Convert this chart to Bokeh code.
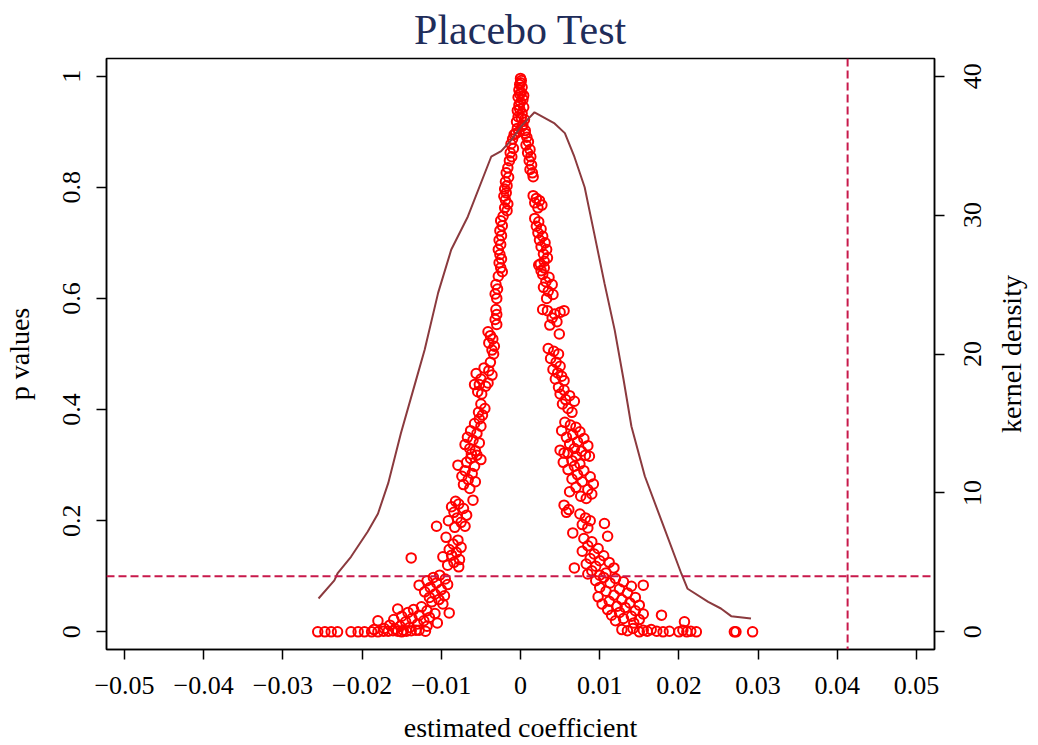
import math
from bokeh.plotting import figure
from bokeh.layouts import row
from bokeh.models import Range1d, LinearAxis, FixedTicker, Span, Title
from bokeh.core.properties import value
from bokeh.embed import file_html
from bokeh.resources import INLINE

# ---------------- data ----------------
# kernel density of placebo coefficients (right axis)
dens_x = [-0.0255, -0.0235, -0.0231, -0.0214, -0.0193, -0.0180, -0.0167, -0.0151,
          -0.0132, -0.0121, -0.0104, -0.00875, -0.00664, -0.0037, -0.00244, -0.00117,
          0.0001, 0.00177, 0.0043, 0.0056, 0.0068, 0.0081, 0.0093, 0.0106, 0.0119,
          0.0130, 0.0140, 0.0157, 0.0178, 0.0203, 0.0211, 0.0237, 0.0253, 0.0266, 0.0291]
dens_y = [2.4, 3.7, 4.2, 5.4, 7.2, 8.5, 10.7, 14.3,
          18.1, 20.3, 24.4, 27.5, 29.9, 34.2, 34.6, 35.4,
          36.4, 37.4, 36.6, 35.9, 34.2, 32.0, 28.7, 25.1, 21.7,
          18.2, 14.8, 11.2, 8.0, 4.2, 3.1, 2.16, 1.68, 1.13, 0.96]

# placebo estimates near zero (top of the funnel)
top_coef = [0.0000, 0.0001, -0.0001, 0.0002, -0.0002, 0.0001, -0.0003, 0.0003, 0.0000,
            -0.0002, 0.0004, -0.0004, 0.0002, -0.0003, 0.0005, -0.0005, 0.0003, -0.0004,
            0.0006, -0.0006, 0.0004, -0.0001, 0.0001, 0.0002, -0.0002, 0.0000, -0.0001]
top_p = [0.996, 0.992, 0.985, 0.980, 0.975, 0.970, 0.962, 0.958, 0.953,
         0.948, 0.944, 0.938, 0.933, 0.927, 0.922, 0.918, 0.912, 0.906,
         0.902, 0.897, 0.965, 0.941, 0.925, 0.910, 0.900, 0.988, 0.968]

# negative placebo estimates
left_coef = [-0.0008, -0.0010, -0.0012, -0.0009, -0.0013, -0.0011, -0.0014,
             -0.0016, -0.0018, -0.0015, -0.0019, -0.0017, -0.0020, -0.0018, -0.0021, -0.0019,
             -0.0016, -0.0020, -0.0017,
             -0.0022, -0.0025, -0.0023, -0.0026, -0.0024, -0.0027, -0.0025, -0.0028, -0.0026,
             -0.0024, -0.0027,
             -0.0025, -0.0023, -0.0028, -0.0031, -0.0029, -0.0032, -0.0030,
             -0.0031, -0.0030, -0.0032, -0.0030,
             -0.0041, -0.0038, -0.0035, -0.0040, -0.0033, -0.0036, -0.0034,
             -0.0038, -0.0046, -0.0040, -0.0036, -0.0056, -0.0050, -0.0052, -0.0044, -0.0041,
             -0.0058, -0.0054, -0.0049,
             -0.0050, -0.0045, -0.0053, -0.0048,
             -0.0052, -0.0058, -0.0050, -0.0063, -0.0055, -0.0067, -0.0060, -0.0052, -0.0070,
             -0.0064, -0.0057, -0.0062,
             -0.0055, -0.0063, -0.0050, -0.0068, -0.0079, -0.0058, -0.0070, -0.0061, -0.0074,
             -0.0066, -0.0057, -0.0072, -0.0064, -0.0060,
             -0.0082, -0.0078, -0.0087, -0.0072, -0.0084, -0.0068, -0.0080, -0.0091, -0.0075,
             -0.0070, -0.0083, -0.0106, -0.0094, -0.0138,
             -0.0079, -0.0085, -0.0075, -0.0090, -0.0081, -0.0087, -0.0098, -0.0077, -0.0084,
             -0.0092, -0.0078,
             -0.0128, -0.0102, -0.0110, -0.0095, -0.0118, -0.0106, -0.0092, -0.0114, -0.0100,
             -0.0121, -0.0108, -0.0096, -0.0115, -0.0103, -0.0112, -0.0098, -0.0090,
             -0.0155, -0.0125, -0.0135, -0.0118, -0.0142, -0.0108, -0.0128, -0.0150, -0.0115,
             -0.0137, -0.0160, -0.0122, -0.0180, -0.0145, -0.0105, -0.0130, -0.0165, -0.0152,
             -0.0118, -0.0140, -0.0172, -0.0158, -0.0132, -0.0148, -0.0185,
             -0.0256, -0.0247, -0.0239, -0.0231, -0.0214, -0.0205, -0.0197, -0.0188, -0.0180,
             -0.0173, -0.0167, -0.0161, -0.0155, -0.0150, -0.0144, -0.0138, -0.0128, -0.0120]
left_p = [0.895, 0.887, 0.878, 0.870, 0.862, 0.855, 0.848,
          0.835, 0.826, 0.818, 0.810, 0.803, 0.797, 0.790, 0.784, 0.777,
          0.770, 0.763, 0.758,
          0.748, 0.740, 0.731, 0.722, 0.713, 0.705, 0.697, 0.688, 0.679,
          0.671, 0.664,
          0.655, 0.648, 0.640, 0.625, 0.617, 0.608, 0.600,
          0.580, 0.571, 0.562, 0.553,
          0.540, 0.533, 0.527, 0.520, 0.514, 0.507, 0.500,
          0.485, 0.475, 0.470, 0.462, 0.465, 0.455, 0.445, 0.442, 0.448,
          0.445, 0.432, 0.428,
          0.410, 0.402, 0.395, 0.390,
          0.383, 0.375, 0.370, 0.362, 0.357, 0.350, 0.345, 0.340, 0.337,
          0.330, 0.326, 0.320,
          0.318, 0.312, 0.310, 0.305, 0.300, 0.298, 0.290, 0.285, 0.280,
          0.274, 0.270, 0.265, 0.258, 0.237,
          0.235, 0.230, 0.225, 0.222, 0.215, 0.210, 0.205, 0.200, 0.197,
          0.190, 0.188, 0.190, 0.170, 0.133,
          0.165, 0.158, 0.152, 0.148, 0.143, 0.138, 0.135, 0.130, 0.125,
          0.120, 0.117,
          0.084, 0.102, 0.098, 0.095, 0.092, 0.088, 0.085, 0.080, 0.076,
          0.072, 0.068, 0.065, 0.062, 0.058, 0.054, 0.050, 0.034,
          0.041, 0.045, 0.040, 0.038, 0.035, 0.033, 0.030, 0.028, 0.026,
          0.024, 0.022, 0.020, 0.020, 0.018, 0.016, 0.014, 0.012, 0.010,
          0.010, 0.008, 0.006, 0.005, 0.003, 0.003, 0.004,
          0.000, 0.000, 0.000, 0.000, 0.000, 0.000, 0.000, 0.000, 0.000,
          0.001, 0.001, 0.002, 0.001, 0.000, 0.001, 0.002, 0.003, 0.001]

# positive placebo estimates
right_coef = [0.0006, 0.0008, 0.0010, 0.0007, 0.0012, 0.0009, 0.0013, 0.0011, 0.0014,
              0.0012, 0.0015, 0.0016,
              0.0016, 0.0020, 0.0024, 0.0018, 0.0027, 0.0022,
              0.0018, 0.0023, 0.0020, 0.0026, 0.0022, 0.0028, 0.0024, 0.0031, 0.0026,
              0.0033, 0.0029, 0.0034, 0.0030, 0.0025,
              0.0023, 0.0030, 0.0026,
              0.0028, 0.0036, 0.0032, 0.0040, 0.0029, 0.0035, 0.0041, 0.0033,
              0.0028, 0.0034, 0.0043, 0.0050, 0.0055, 0.0040, 0.0046, 0.0037, 0.0049,
              0.0035, 0.0042, 0.0048, 0.0038, 0.0045, 0.0050, 0.0041, 0.0047, 0.0052,
              0.0044, 0.0055,
              0.0048, 0.0055, 0.0050, 0.0062, 0.0057, 0.0068, 0.0053, 0.0060, 0.0065,
              0.0056, 0.0063, 0.0070, 0.0052, 0.0075, 0.0066, 0.0058, 0.0080, 0.0072,
              0.0062, 0.0085, 0.0068, 0.0077, 0.0055, 0.0082,
              0.0050, 0.0060, 0.0070, 0.0087, 0.0065, 0.0054, 0.0075,
              0.0068, 0.0060, 0.0080, 0.0072, 0.0088, 0.0065, 0.0078, 0.0092, 0.0070,
              0.0085, 0.0062, 0.0090, 0.0076, 0.0083,
              0.0055, 0.0061, 0.0058,
              0.0075, 0.0082, 0.0088, 0.0078, 0.0085, 0.0106, 0.0066, 0.0110,
              0.0080, 0.0090, 0.0085, 0.0098, 0.0078, 0.0093, 0.0105, 0.0088, 0.0100,
              0.0112, 0.0083, 0.0095, 0.0118, 0.0068, 0.0090, 0.0108, 0.0100, 0.0085,
              0.0105, 0.0120, 0.0095, 0.0130, 0.0113, 0.0155, 0.0140, 0.0100, 0.0125,
              0.0108, 0.0135, 0.0118, 0.0098, 0.0145, 0.0128, 0.0112, 0.0138, 0.0103,
              0.0150, 0.0122,
              0.0132, 0.0110, 0.0145, 0.0125, 0.0155, 0.0115, 0.0140, 0.0178, 0.0130,
              0.0150, 0.0120, 0.0207, 0.0143,
              0.0128, 0.0135, 0.0142, 0.0150, 0.0155, 0.0160, 0.0165, 0.0172, 0.0180,
              0.0188, 0.0200, 0.0205, 0.0210, 0.0215, 0.0222, 0.0270, 0.0272, 0.0293]
right_p = [0.897, 0.890, 0.882, 0.876, 0.868, 0.862, 0.855, 0.848, 0.840,
           0.832, 0.826, 0.819,
           0.785, 0.780, 0.776, 0.772, 0.768, 0.763,
           0.744, 0.738, 0.730, 0.725, 0.718, 0.712, 0.705, 0.700, 0.693,
           0.688, 0.680, 0.673, 0.667, 0.662,
           0.660, 0.655, 0.650,
           0.643, 0.638, 0.630, 0.625, 0.620, 0.613, 0.607, 0.600,
           0.580, 0.578, 0.572, 0.575, 0.578, 0.565, 0.558, 0.552, 0.536,
           0.510, 0.505, 0.500, 0.492, 0.485, 0.478, 0.472, 0.466, 0.460,
           0.455, 0.452,
           0.440, 0.435, 0.428, 0.425, 0.418, 0.415, 0.410, 0.402, 0.395,
           0.377, 0.372, 0.368, 0.362, 0.360, 0.355, 0.350, 0.348, 0.342,
           0.338, 0.335, 0.330, 0.325, 0.322, 0.318,
           0.327, 0.322, 0.316, 0.316, 0.308, 0.305, 0.302,
           0.298, 0.292, 0.290, 0.283, 0.279, 0.275, 0.270, 0.266, 0.260,
           0.256, 0.252, 0.248, 0.244, 0.240,
           0.228, 0.220, 0.215,
           0.212, 0.205, 0.200, 0.193, 0.187, 0.195, 0.178, 0.172,
           0.168, 0.162, 0.155, 0.150, 0.145, 0.140, 0.137, 0.132, 0.128,
           0.125, 0.122, 0.118, 0.115, 0.115, 0.110, 0.106, 0.102, 0.104,
           0.098, 0.096, 0.092, 0.090, 0.088, 0.084, 0.082, 0.080, 0.077,
           0.073, 0.070, 0.066, 0.063, 0.062, 0.058, 0.055, 0.052, 0.050,
           0.048, 0.046,
           0.044, 0.040, 0.038, 0.035, 0.032, 0.030, 0.028, 0.030, 0.024,
           0.022, 0.020, 0.018, 0.016,
           0.004, 0.002, 0.006, 0.000, 0.003, 0.001, 0.004, 0.001, 0.000,
           0.001, 0.000, 0.003, 0.000, 0.001, 0.000, 0.000, 0.000, 0.000]

true_coef = 0.0413          # actual estimate (vertical dashed line)
p_threshold = 0.1           # significance level (horizontal dashed line)

x_ticks = [-0.05, -0.04, -0.03, -0.02, -0.01, 0, 0.01, 0.02, 0.03, 0.04, 0.05]
x_tick_labels = ["\u22120.05", "\u22120.04", "\u22120.03", "\u22120.02", "\u22120.01",
                 "0", "0.01", "0.02", "0.03", "0.04", "0.05"]
p_ticks = [0, 0.2, 0.4, 0.6, 0.8, 1]
p_tick_labels = ["0", "0.2", "0.4", "0.6", "0.8", "1"]
d_ticks = [0, 10, 20, 30, 40]
d_tick_labels = ["0", "10", "20", "30", "40"]

# ---------------- figure ----------------
FONT = "Liberation Serif"
X0, X1 = -0.05227, 0.05227
Y0, Y1 = -0.0318, 1.0318
FRAME_W, FRAME_H = 828, 591
LEFT, RIGHT, TOP, BOTTOM = 105, 16, 58, 90
dens_range = Range1d(Y0 * 40, Y1 * 40)

p = figure(frame_width=FRAME_W, frame_height=FRAME_H,
           x_range=Range1d(X0, X1), y_range=Range1d(Y0, Y1),
           output_backend="svg", toolbar_location=None,
           min_border_left=LEFT, min_border_right=RIGHT, min_border_top=TOP,
           min_border_bottom=BOTTOM,
           background_fill_color="white", border_fill_color="white")
p.extra_y_ranges = {"density": dens_range}
p.xgrid.visible = False
p.ygrid.visible = False
p.outline_line_color = "black"
p.outline_line_width = 1.5

p.title = Title(text="Placebo Test", align="center", vertical_align="top",
                text_font=FONT, text_font_size="42px", text_font_style="normal",
                text_color="#1f2d5a", standoff=8, offset=0)

def style_axis(ax, ticks, labels):
    ax.ticker = FixedTicker(ticks=ticks)
    ax.major_label_overrides = {t: l for t, l in zip(ticks, labels)}
    ax.minor_tick_line_color = None
    ax.major_tick_in = 0
    ax.major_tick_out = 10
    ax.major_tick_line_width = 1.5
    ax.axis_line_width = 1.5
    ax.axis_line_color = "black"
    ax.major_tick_line_color = "black"
    ax.major_label_text_font = FONT
    ax.major_label_text_font_size = "26px"
    ax.major_label_text_color = "black"
    ax.axis_label_text_font = FONT
    ax.axis_label_text_font_size = "28px"
    ax.axis_label_text_font_style = "normal"
    ax.axis_label_text_color = "black"

xa = p.xaxis[0]
style_axis(xa, x_ticks, x_tick_labels)
xa.axis_label = "estimated coefficient"
xa.major_label_standoff = 17
xa.axis_label_standoff = 15

ya = p.yaxis[0]
style_axis(ya, p_ticks, p_tick_labels)
ya.axis_label = "p values"
ya.major_label_orientation = "vertical"
ya.major_label_standoff = 16
ya.axis_label_standoff = 26

# right axis: ticks only; its rotated (upward reading) texts sit in a side strip
ra = LinearAxis(y_range_name="density")
style_axis(ra, d_ticks, ["" for _ in d_ticks])
ra.major_label_standoff = 0
p.add_layout(ra, "right")

# reference lines
p.add_layout(Span(location=p_threshold, dimension="width", line_color="#c8194b",
                  line_width=2, line_dash="8 4"))
p.add_layout(Span(location=true_coef, dimension="height", line_color="#c8194b",
                  line_width=2, line_dash="8 4"))

# scatter
all_coef = top_coef + left_coef + right_coef
all_p = top_p + left_p + right_p
p.scatter(all_coef, all_p, marker="circle", size=9.5, fill_color=None,
          line_color="#ff0000", line_width=2)

# kernel density
p.line(dens_x, dens_y, y_range_name="density", line_color="#8b3a3e", line_width=2)

# ---------------- right strip with the density axis texts ----------------
STRIP_X = LEFT + FRAME_W + RIGHT          # where the strip starts on the page
STRIP_W = 85
side = figure(frame_width=STRIP_W, frame_height=FRAME_H,
              x_range=Range1d(0, STRIP_W), y_range=dens_range,
              output_backend="svg", toolbar_location=None,
              x_axis_location=None, y_axis_location=None,
              min_border_left=0, min_border_right=0, min_border_top=TOP,
              min_border_bottom=BOTTOM, outline_line_color=None,
              background_fill_color="white", border_fill_color="white")
side.grid.visible = False
side.text(x=[971 - STRIP_X] * len(d_ticks), y=d_ticks, text=d_tick_labels,
          angle=math.pi / 2, text_align="center", text_baseline="middle",
          text_font=value(FONT), text_font_size=value("26px"), text_color="black")
side.text(x=[1010 - STRIP_X], y=[(Y0 + Y1) / 2 * 40], text=["kernel density"],
          angle=math.pi / 2, text_align="center", text_baseline="middle",
          text_font=value(FONT), text_font_size=value("28px"), text_color="black")

layout = row(p, side)
open("out.html", "w").write(file_html(layout, INLINE, title="Placebo Test"))
